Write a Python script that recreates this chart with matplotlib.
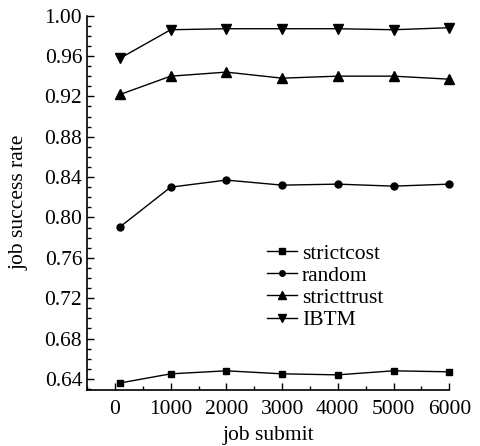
import matplotlib
matplotlib.use('Agg')
import matplotlib.pyplot as plt
from matplotlib.ticker import MultipleLocator

plt.rcParams['font.family'] = ['Liberation Serif', 'DejaVu Serif']

# job submissions and success rates per strategy
job_submit = [100, 1000, 2000, 3000, 4000, 5000, 6000]
strictcost = [0.636, 0.645, 0.648, 0.645, 0.644, 0.648, 0.647]
random_sel = [0.791, 0.830, 0.837, 0.832, 0.833, 0.831, 0.833]
stricttrust = [0.922, 0.940, 0.944, 0.938, 0.940, 0.940, 0.937]
ibtm = [0.958, 0.986, 0.987, 0.987, 0.987, 0.986, 0.988]

fig = plt.figure(figsize=(4.81, 4.46), dpi=100)
ax = fig.add_axes([0.181, 0.1256, 0.753, 0.8394])

style = dict(color='k', lw=1.0, clip_on=False)
ax.plot(job_submit, strictcost, marker='s', ms=5, label='strictcost', **style)
ax.plot(job_submit, random_sel, marker='o', ms=5, label='random', **style)
ax.plot(job_submit, stricttrust, marker='^', ms=7.5, label='stricttrust', **style)
ax.plot(job_submit, ibtm, marker='v', ms=7.5, label='IBTM', **style)

ax.set_xlim(-500, 6000)
ax.set_ylim(0.629, 1.0)
ax.xaxis.set_major_locator(MultipleLocator(1000))
ax.xaxis.set_minor_locator(MultipleLocator(500))
ax.yaxis.set_major_locator(MultipleLocator(0.04))
ax.yaxis.set_minor_locator(MultipleLocator(0.01))
ax.yaxis.set_major_formatter(plt.FormatStrFormatter('%.2f'))

for s in ['top', 'right']:
    ax.spines[s].set_visible(False)
for s in ['left', 'bottom']:
    ax.spines[s].set_linewidth(1.2)

ax.tick_params(which='both', direction='in', labelsize=15.5, width=1.0)
ax.tick_params(which='major', length=5)
ax.tick_params(which='minor', length=3)
ax.tick_params(axis='y', pad=3.5)
ax.tick_params(axis='x', pad=7)

ax.set_xlabel('job submit', fontsize=15.5, labelpad=5)
ax.set_ylabel('job success rate', fontsize=15.5, labelpad=11)

ax.legend(loc='upper left', bbox_to_anchor=(0.468, 0.42), frameon=False,
          fontsize=15.5, handlelength=1.4, handletextpad=0.2,
          labelspacing=0.1, borderpad=0, markerscale=0.8)

fig.savefig('out.png', dpi=100)
